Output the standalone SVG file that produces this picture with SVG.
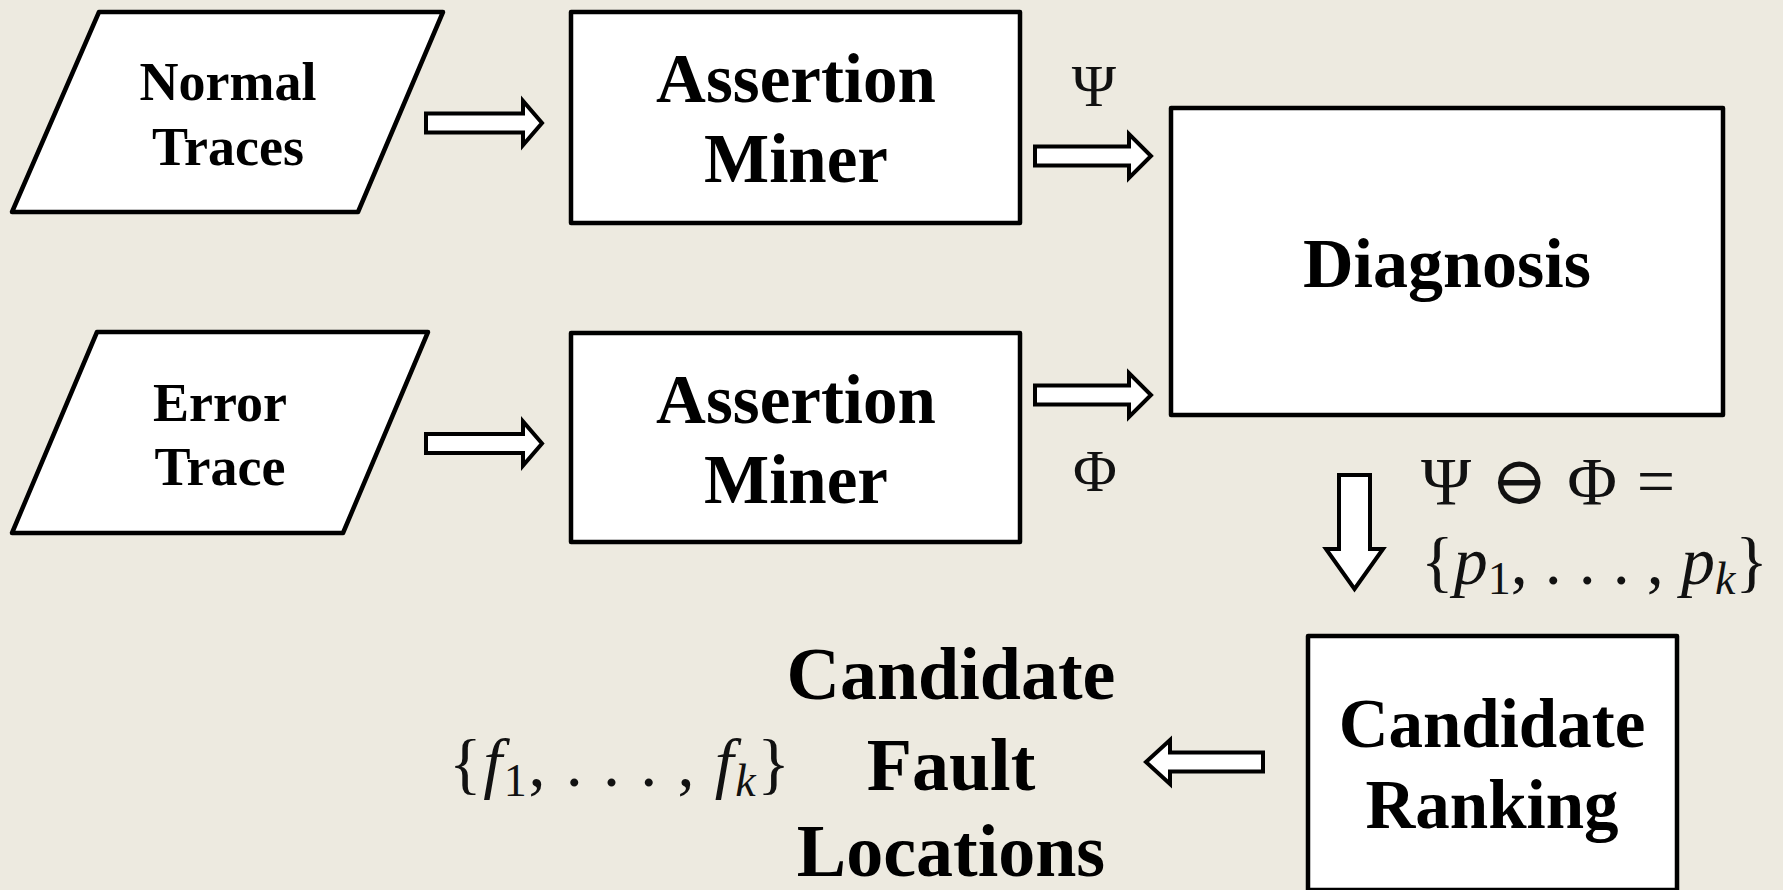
<svg xmlns="http://www.w3.org/2000/svg" width="1783" height="890" viewBox="0 0 1783 890">
<style>
.shape{fill:#fff;stroke:#000;stroke-width:4.5;stroke-linejoin:round}
.arr{fill:#fff;stroke:#000;stroke-width:4;stroke-linejoin:miter}
.lbl{font-family:"Liberation Serif","Times New Roman",serif;font-weight:bold;text-anchor:middle;fill:#000}
.math{font-family:"Liberation Serif","DejaVu Serif",serif;fill:#111}
.it{font-style:italic}
</style>
<rect x="0" y="0" width="1783" height="890" fill="#EDEAE0"/>
<g id="normal-traces">
<polygon class="shape" points="99,12 443,12 358,212 12,212"/>
<text class="lbl" x="228" y="100" font-size="54">Normal</text>
<text class="lbl" x="228" y="165" font-size="54">Traces</text>
</g>
<g id="error-trace">
<polygon class="shape" points="97,332 428,332 343,533 12,533"/>
<text class="lbl" x="220" y="421" font-size="54">Error</text>
<text class="lbl" x="220" y="485" font-size="54">Trace</text>
</g>
<g id="miner-1">
<rect class="shape" x="571" y="12" width="449" height="211"/>
<text class="lbl" x="796" y="102" font-size="69">Assertion</text>
<text class="lbl" x="796" y="182" font-size="69">Miner</text>
</g>
<g id="miner-2">
<rect class="shape" x="571" y="333" width="449" height="209"/>
<text class="lbl" x="796" y="423" font-size="69">Assertion</text>
<text class="lbl" x="796" y="503" font-size="69">Miner</text>
</g>
<g id="diagnosis">
<rect class="shape" x="1171" y="108" width="552" height="307"/>
<text class="lbl" x="1447" y="287" font-size="70">Diagnosis</text>
</g>
<g id="candidate-ranking">
<rect class="shape" x="1308" y="636" width="369" height="254"/>
<text class="lbl" x="1492" y="747" font-size="69">Candidate</text>
<text class="lbl" x="1492" y="828" font-size="69">Ranking</text>
</g>
<g id="candidate-fault-locations">
<text class="lbl" x="951" y="699" font-size="74">Candidate</text>
<text class="lbl" x="951" y="790" font-size="74">Fault</text>
<text class="lbl" x="951" y="876" font-size="74">Locations</text>
</g>
<g id="connectors">
<path class="arr" d="M426,113.5 H523 V101 L542,123 L523,145 V132.5 H426 Z"/>
<path class="arr" d="M426,434 H523 V421.5 L542,443.5 L523,465.5 V453 H426 Z"/>
<path class="arr" d="M1035,146.5 H1129 V134 L1151,156 L1129,178 V165.5 H1035 Z"/>
<path class="arr" d="M1035,385.5 H1129 V373 L1151,395 L1129,417 V404.5 H1035 Z"/>
<path class="arr" d="M1339,475 H1370 V549 H1383 L1354.5,589 L1326,549 H1339 Z"/>
<path class="arr" d="M1263,752.5 H1170 V740 L1146,762 L1170,784 V771.5 H1263 Z"/>
</g>
<g id="labels">
<text class="math" x="1094" y="106" font-size="60" text-anchor="middle">Ψ</text>
<text class="math" x="1095" y="491" font-size="60" text-anchor="middle">Φ</text>
<text class="math" x="1421" y="504" font-size="68" textLength="254" lengthAdjust="spacing">Ψ ⊖ Φ =</text>
<text class="math" x="1421" y="584" font-size="68" textLength="347" lengthAdjust="spacing">{<tspan class="it">p</tspan><tspan font-size="46" dy="10">1</tspan><tspan dy="-10">, . . . , </tspan><tspan class="it">p</tspan><tspan class="it" font-size="46" dy="10">k</tspan><tspan dy="-10">}</tspan></text>
<text class="math" x="449" y="786" font-size="68" textLength="341" lengthAdjust="spacing">{<tspan class="it">f</tspan><tspan font-size="46" dy="10">1</tspan><tspan dy="-10">, . . . , </tspan><tspan class="it">f</tspan><tspan class="it" font-size="46" dy="10">k</tspan><tspan dy="-10">}</tspan></text>
</g>
</svg>
